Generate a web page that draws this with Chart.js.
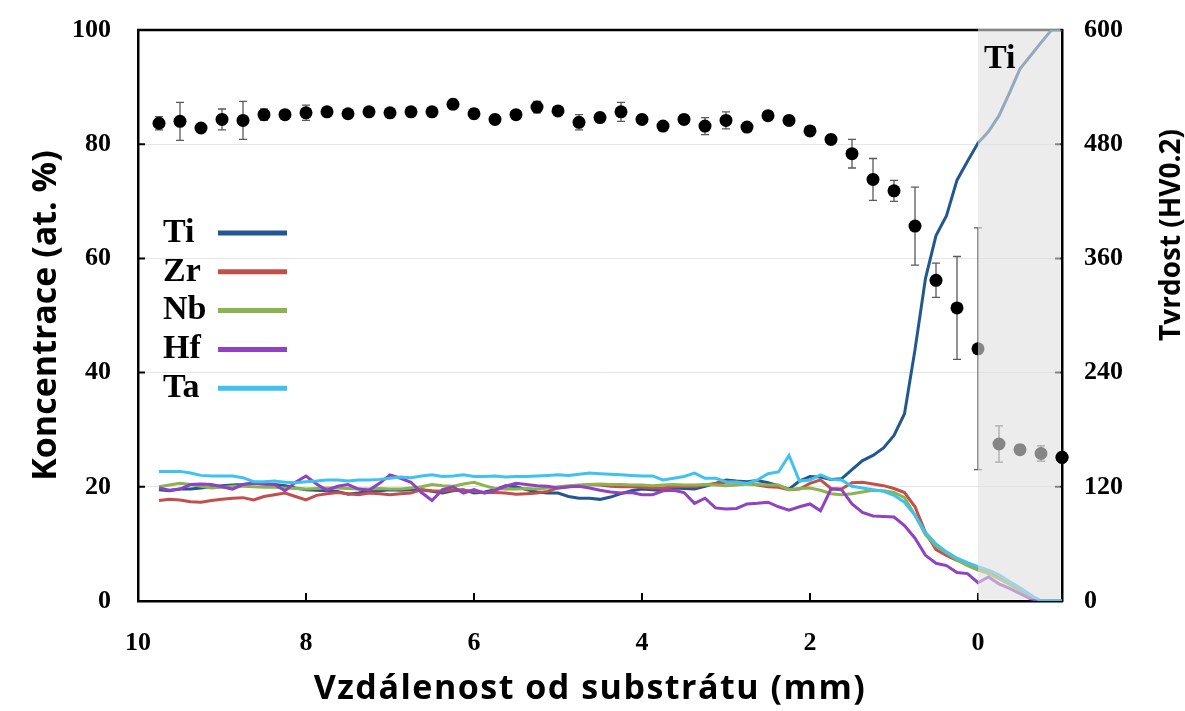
<!DOCTYPE html>
<html>
<head>
<meta charset="utf-8">
<script src="https://cdn.jsdelivr.net/npm/chart.js@4.4.1/dist/chart.umd.min.js"></script>
<style>
  html, body { margin: 0; padding: 0; background: #fff; }
  #wrap { width: 1185px; height: 711px; }
</style>
</head>
<body>
<div id="wrap"><canvas id="profile" width="1185" height="711"></canvas></div>
<script>
// EDS line scan, distance from substrate (mm)
const profileDist = [
  9.75, 9.625, 9.5, 9.375, 9.25, 9.125, 9, 8.875,
  8.75, 8.625, 8.5, 8.375, 8.25, 8.125, 8, 7.875,
  7.75, 7.625, 7.5, 7.375, 7.25, 7.125, 7, 6.875,
  6.75, 6.625, 6.5, 6.375, 6.25, 6.125, 6, 5.875,
  5.75, 5.625, 5.5, 5.375, 5.25, 5.125, 5, 4.875,
  4.75, 4.625, 4.5, 4.375, 4.25, 4.125, 4, 3.875,
  3.75, 3.625, 3.5, 3.375, 3.25, 3.125, 3, 2.875,
  2.75, 2.625, 2.5, 2.375, 2.25, 2.125, 2, 1.875,
  1.75, 1.625, 1.5, 1.375, 1.25, 1.125, 1, 0.875,
  0.75, 0.625, 0.5, 0.375, 0.25, 0.125, 0, -0.125,
  -0.25, -0.375, -0.5, -0.625, -0.75, -0.875, -1
];

// concentrations (at. %)
const tiConc = [
  19.5, 19.3, 19.6, 19.6, 19.8, 20.0, 20.2, 20.3,
  20.4, 20.6, 20.5, 20.4, 20.2, 19.8, 19.5, 19.4,
  19.3, 19.2, 18.7, 18.9, 19.2, 19.3, 19.5, 19.4,
  19.5, 19.5, 19.2, 18.9, 19.3, 19.5, 18.9, 19.1,
  19.5, 20.2, 20.0, 19.5, 19.1, 18.9, 18.9, 18.3,
  18.0, 18.0, 17.8, 18.2, 18.8, 19.3, 19.6, 19.5,
  19.3, 19.8, 19.7, 19.6, 20.1, 20.6, 21.2, 21.0,
  20.9, 21.1, 20.7, 20.2, 19.6, 21.0, 21.8, 21.7,
  21.3, 21.4, 23.0, 24.6, 25.5, 26.8, 29.0, 32.8,
  44.0, 56.5, 64.0, 67.5, 73.7, 77.0, 80.2, 82.2,
  85.0, 89.0, 93.2, 95.5, 97.8, 100, 100
];
const zrConc = [
  17.6, 17.8, 17.7, 17.4, 17.3, 17.6, 17.8, 18.0,
  18.1, 17.7, 18.3, 18.6, 18.9, 18.3, 17.7, 18.5,
  18.8, 19.0, 18.8, 18.6, 18.9, 18.8, 18.6, 18.8,
  18.9, 19.5, 19.3, 19.2, 19.5, 19.4, 19.2, 19.0,
  19.0, 18.9, 18.7, 18.8, 18.9, 19.2, 19.8, 20.0,
  20.2, 20.4, 20.3, 20.1, 20.0, 20.0, 19.9, 19.8,
  19.8, 20.0, 20.1, 20.0, 20.3, 20.6, 20.8, 20.9,
  20.6, 20.3, 20.0, 19.9, 19.5, 19.6, 20.6, 21.2,
  19.7, 19.6, 20.7, 20.8, 20.5, 20.2, 19.7, 19.0,
  16.5, 12.0, 9.0, 8.0, 7.1, 6.4, 5.7, 5.0,
  4.0, 3.0, 1.9, 0.9, 0, 0, 0
];
const nbConc = [
  20.0, 20.3, 20.6, 20.4, 20.1, 19.8, 19.9, 20.1,
  20.1, 20.0, 19.9, 19.9, 19.8, 19.7, 19.6, 19.7,
  19.8, 19.8, 19.7, 19.6, 19.6, 19.7, 19.6, 19.6,
  19.8, 20.0, 20.4, 20.2, 20.1, 20.5, 20.8, 20.2,
  19.7, 19.6, 19.6, 19.7, 19.6, 19.8, 20.0, 20.2,
  20.3, 20.4, 20.5, 20.4, 20.4, 20.3, 20.3, 20.2,
  20.3, 20.4, 20.3, 20.3, 20.4, 20.3, 20.2, 20.3,
  20.5, 20.4, 20.3, 20.3, 19.5, 19.7, 19.8, 19.4,
  18.8, 18.6, 18.8, 19.1, 19.4, 19.3, 19.0, 18.1,
  15.0, 11.6, 9.6, 8.4, 7.2, 6.2, 5.4, 4.8,
  3.9, 2.9, 1.9, 0.9, 0, 0, 0
];
const hfConc = [
  19.8, 19.4, 19.6, 20.4, 20.5, 20.4, 20.0, 19.6,
  20.4, 20.6, 20.5, 20.4, 19.3, 20.8, 21.9, 20.5,
  19.4, 20.1, 20.4, 19.6, 19.4, 20.6, 22.1, 21.5,
  20.8, 19.0, 17.6, 19.5, 20.0, 18.9, 19.5, 18.9,
  19.4, 20.1, 20.6, 20.4, 20.2, 20.1, 19.8, 20.0,
  20.1, 19.8, 19.4, 19.1, 18.9, 19.0, 18.6, 18.6,
  19.3, 19.4, 19.0, 17.1, 18.0, 16.3, 16.1, 16.2,
  17.0, 17.1, 17.3, 16.5, 15.9, 16.5, 17.0, 15.8,
  19.6, 19.5, 17.0, 15.5, 14.9, 14.8, 14.7, 13.2,
  11.0, 8.0, 6.6, 6.2, 5.0, 4.8, 3.2, 4.2,
  3.0, 2.2, 1.3, 0.4, 0, 0, 0
];
const taConc = [
  22.7, 22.7, 22.7, 22.4, 22.0, 21.9, 21.9, 21.9,
  21.6, 20.9, 20.9, 21.0, 20.8, 20.7, 20.9, 21.0,
  21.2, 21.2, 21.0, 21.2, 21.2, 21.3, 21.5, 21.7,
  21.6, 21.9, 22.1, 21.8, 21.9, 22.1, 21.8, 21.8,
  21.9, 21.7, 21.8, 21.8, 21.9, 22.0, 22.1, 22.0,
  22.2, 22.4, 22.3, 22.2, 22.1, 22.0, 21.9, 21.9,
  21.2, 21.5, 21.8, 22.4, 21.5, 21.5, 20.9, 20.8,
  20.6, 21.2, 22.3, 22.6, 25.5, 21.0, 21.2, 22.1,
  21.3, 21.2, 20.1, 19.8, 19.5, 19.2, 18.5, 17.3,
  15.0, 12.0, 10.0, 8.6, 7.5, 6.7, 6.0, 5.4,
  4.6, 3.4, 2.3, 1.1, 0, 0, 0
];

// microhardness HV0.2 with standard deviation
const hvDist = [
  9.75, 9.5, 9.25, 9, 8.75, 8.5, 8.25, 8, 7.75, 7.5, 7.25,
  7, 6.75, 6.5, 6.25, 6, 5.75, 5.5, 5.25, 5, 4.75, 4.5,
  4.25, 4, 3.75, 3.5, 3.25, 3, 2.75, 2.5, 2.25, 2, 1.75,
  1.5, 1.25, 1, 0.75, 0.5, 0.25, 0, -0.25, -0.5, -0.75, -1
];
const hardness = [
  502, 504, 497, 506, 505, 511, 511, 513, 514, 512,
  514, 513, 514, 514, 522, 512, 506, 511, 519, 515,
  503, 508, 514, 506, 499, 506, 499, 505, 498, 510,
  505, 494, 485, 470, 443, 431, 394, 337, 308, 265,
  165, 159, 155, 151
];
const hardnessErr = [
  7, 20, 4, 11, 20, 6, 4, 8, 4, 4,
  4, 4, 4, 4, 5, 5, 4, 4, 6, 4,
  8, 5, 10, 4, 4, 5, 9, 9, 4, 4,
  4, 4, 4, 15, 22, 11, 41, 18, 54, 127,
  19, 5, 8, 5
];

const distTicks = [10, 8, 6, 4, 2, 0];
const concTicks = [0, 20, 40, 60, 80, 100];
const hvTicks = [0, 120, 240, 360, 480, 600];
const substrateFrom = 0;

const serif = "'Liberation Serif', 'Times New Roman', serif";
const sans = "'Open Sans', 'Noto Sans', sans-serif";

const elements = [
  { label: 'Ti', values: tiConc, color: '#22588f', order: 5 },
  { label: 'Zr', values: zrConc, color: '#c24f4b', order: 4 },
  { label: 'Nb', values: nbConc, color: '#8db250', order: 3 },
  { label: 'Hf', values: hfConc, color: '#8f42c2', order: 2 },
  { label: 'Ta', values: taConc, color: '#3fc2ee', order: 1 }
];

const datasets = elements.map(el => ({
  label: el.label,
  data: profileDist.map((d, i) => ({ x: d, y: el.values[i] })),
  borderColor: el.color,
  borderWidth: 3,
  pointRadius: 0,
  tension: 0,
  yAxisID: 'y',
  order: el.order
}));
datasets.push({
  label: 'HV0.2',
  data: hvDist.map((d, i) => ({ x: d, y: hardness[i] })),
  errors: hardnessErr,
  showLine: false,
  pointRadius: 6.5,
  pointBackgroundColor: '#000',
  pointBorderWidth: 0,
  yAxisID: 'y2',
  order: 0,
  clip: false
});

// top frame edge and inward tick marks
const frame = {
  id: 'frame',
  beforeDatasetsDraw(chart) {
    const { ctx, chartArea: a, scales } = chart;
    ctx.save();
    ctx.strokeStyle = '#000';
    ctx.lineWidth = 2.5;
    ctx.beginPath();
    ctx.moveTo(a.left - 1, a.top);
    ctx.lineTo(a.right + 1, a.top);
    ctx.stroke();
    ctx.lineWidth = 2;
    ctx.beginPath();
    concTicks.slice(1, -1).forEach(v => {
      const y = scales.y.getPixelForValue(v);
      ctx.moveTo(a.left, y); ctx.lineTo(a.left + 7, y);
    });
    hvTicks.slice(1, -1).forEach(v => {
      const y = scales.y2.getPixelForValue(v);
      ctx.moveTo(a.right, y); ctx.lineTo(a.right - 7, y);
    });
    distTicks.slice(1).forEach(v => {
      const x = scales.x.getPixelForValue(v);
      ctx.moveTo(x, a.bottom); ctx.lineTo(x, a.bottom - 8);
    });
    ctx.stroke();
    ctx.restore();
  }
};

const errorBars = {
  id: 'errorBars',
  beforeDatasetDraw(chart, args) {
    const ds = chart.data.datasets[args.index];
    if (!ds.errors) return;
    const { ctx } = chart;
    const ys = chart.scales[ds.yAxisID];
    ctx.save();
    ctx.strokeStyle = '#5a5a5a';
    ctx.lineWidth = 1.3;
    args.meta.data.forEach((pt, i) => {
      const v = ds.data[i].y, e = ds.errors[i];
      const top = ys.getPixelForValue(v + e), bot = ys.getPixelForValue(v - e);
      ctx.beginPath();
      ctx.moveTo(pt.x, top); ctx.lineTo(pt.x, bot);
      ctx.moveTo(pt.x - 4, top); ctx.lineTo(pt.x + 4, top);
      ctx.moveTo(pt.x - 4, bot); ctx.lineTo(pt.x + 4, bot);
      ctx.stroke();
    });
    ctx.restore();
  }
};

// grey band over the Ti substrate, legend and the remaining axis titles
const overlay = {
  id: 'overlay',
  afterDatasetsDraw(chart) {
    const { ctx, chartArea: a, scales } = chart;
    const x0 = scales.x.getPixelForValue(substrateFrom);
    ctx.save();
    ctx.fillStyle = 'rgba(224,224,224,0.6)';
    ctx.fillRect(x0, a.top - 2, a.right - 1.5 - x0, a.bottom - 1.5 - a.top + 2);

    const hv = chart.getDatasetMeta(chart.data.datasets.length - 1);
    hv.data[hv.data.length - 1].draw(ctx);

    ctx.fillStyle = '#000';
    ctx.textAlign = 'left';
    ctx.textBaseline = 'middle';
    ctx.font = `bold 34px ${serif}`;
    ctx.fillText('Ti', x0 + 6, a.top + 29);

    elements.forEach((el, i) => {
      const y = a.top + 203 + i * 38.8;
      ctx.fillStyle = '#000';
      ctx.fillText(el.label, a.left + 25, y);
      ctx.strokeStyle = el.color;
      ctx.lineWidth = 5;
      ctx.beginPath();
      ctx.moveTo(a.left + 80, y);
      ctx.lineTo(a.left + 149, y);
      ctx.stroke();
    });

    ctx.font = `bold 34px ${sans}`;
    ctx.textAlign = 'center';
    ctx.letterSpacing = '1.5px';
    ctx.fillText('Vzdálenost od substrátu (mm)', (a.left + a.right) / 2 - 10, a.bottom + 88);
    ctx.letterSpacing = '0px';

    ctx.font = `bold 28px ${sans}`;
    ctx.translate(a.right + 110, a.top + 205);
    ctx.rotate(-Math.PI / 2);
    ctx.fillText('Tvrdost (HV0.2)', 0, 0);
    ctx.restore();
  }
};

const tickFont = { family: serif, weight: 'bold', size: 26 };
const titleFont = { family: sans, weight: 'bold', size: 34 };

new Chart(document.getElementById('profile'), {
  type: 'line',
  data: { datasets },
  options: {
    responsive: false,
    animation: false,
    layout: { padding: { top: 30 } },
    plugins: { legend: { display: false }, tooltip: { enabled: false } },
    scales: {
      x: {
        type: 'linear',
        reverse: true,
        min: -1,
        max: 10,
        afterBuildTicks: s => { s.ticks = distTicks.map(v => ({ value: v })); },
        afterFit: s => { s.height = 110; },
        grid: { display: false, drawTicks: false },
        border: { color: '#000', width: 2.5 },
        ticks: { color: '#000', padding: 27, maxRotation: 0, font: tickFont }
      },
      y: {
        position: 'left',
        min: 0,
        max: 100,
        afterBuildTicks: s => { s.ticks = concTicks.map(v => ({ value: v })); },
        afterFit: s => { s.width = 138; },
        grid: { color: '#e6e6e6', lineWidth: 1, drawTicks: true, tickLength: 27, tickColor: 'transparent' },
        border: { color: '#000', width: 2.5 },
        ticks: { color: '#000', padding: 0, font: tickFont },
        title: {
          display: true,
          text: 'Koncentrace (at. %)',
          color: '#000',
          font: titleFont,
          padding: { top: 26, bottom: 0 }
        }
      },
      y2: {
        position: 'right',
        min: 0,
        max: 600,
        afterBuildTicks: s => { s.ticks = hvTicks.map(v => ({ value: v })); },
        afterFit: s => { s.width = 123; },
        grid: { drawOnChartArea: false, drawTicks: true, tickLength: 22, tickColor: 'transparent' },
        border: { color: '#000', width: 2.5 },
        ticks: { color: '#000', padding: 0, font: tickFont }
      }
    }
  },
  plugins: [frame, errorBars, overlay]
});
</script>
</body>
</html>
